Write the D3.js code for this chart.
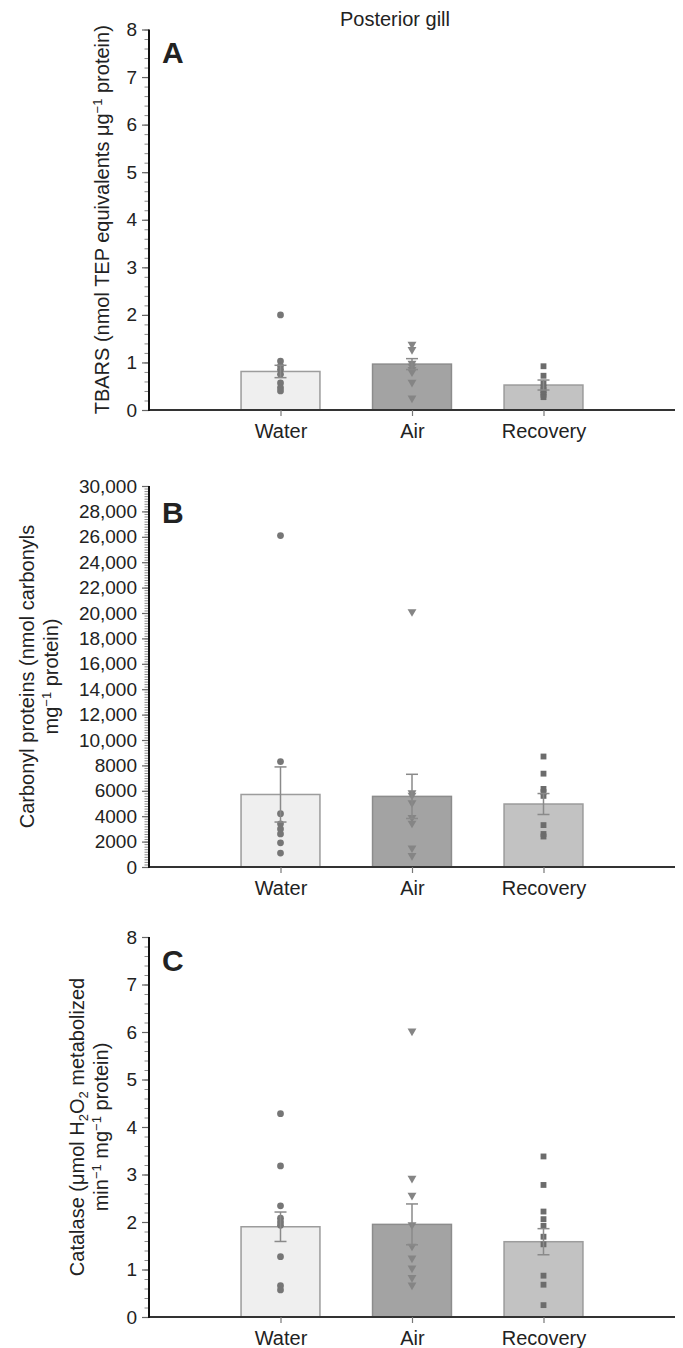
<!DOCTYPE html>
<html><head><meta charset="utf-8">
<script src="https://cdn.jsdelivr.net/npm/d3@7"></script>
<style>
body{margin:0;background:#fff}
svg{display:block}
text{font-family:"Liberation Sans",Arial,Helvetica,sans-serif;fill:#222}
</style>
</head><body>
<svg id="chart" width="683" height="1348"></svg>
<script>
// ---- data ----
const categories = ["Water", "Air", "Recovery"];

const tbarsMean = [0.81, 0.965, 0.525];
const tbarsSE = [0.13, 0.115, 0.105];
const tbarsWater = [2.0, 1.03, 0.93, 0.85, 0.75, 0.57, 0.47, 0.4];
const tbarsAir = [1.38, 1.27, 0.98, 0.92, 0.85, 0.8, 0.58, 0.25];
const tbarsRecovery = [0.92, 0.72, 0.56, 0.47, 0.42, 0.37, 0.32, 0.27];

const carbonylMean = [5710, 5560, 4960];
const carbonylSE = [2170, 1740, 825];
const carbonylWater = [26100, 8300, 4200, 3400, 3000, 2600, 1900, 1100];
const carbonylAir = [20100, 5850, 5650, 5050, 3900, 3450, 1500, 900];
const carbonylRecovery = [8700, 7350, 6150, 5900, 5600, 3300, 2600, 2400];

const catalaseMean = [1.90, 1.95, 1.585];
const catalaseSE = [0.31, 0.43, 0.275];
const catalaseWater = [4.28, 3.18, 2.34, 2.08, 2.0, 1.93, 1.27, 0.66, 0.57];
const catalaseAir = [6.02, 2.92, 2.56, 1.94, 1.49, 1.24, 1.03, 0.83, 0.67];
const catalaseRecovery = [3.38, 2.78, 2.22, 2.06, 1.92, 1.69, 1.53, 0.87, 0.68, 0.25];

const ticksA = [0, 1, 2, 3, 4, 5, 6, 7, 8];
const ticksB = [0, 2000, 4000, 6000, 8000, 10000, 12000, 14000, 16000, 18000, 20000, 22000, 24000, 26000, 28000, 30000];
const ticksC = [0, 1, 2, 3, 4, 5, 6, 7, 8];

const title = "Posterior gill";

// ---- drawing ----
const svg = d3.select("#chart");
const x = d3.scaleLinear().domain([0, 4]).range([149, 675]);

const barFill = ["#efefef", "#a3a3a3", "#c2c2c2"];
const barStroke = ["#9c9c9c", "#8c8c8c", "#9c9c9c"];
const ptColor = ["#767676", "#858585", "#6c6c6c"];
const symbols = [d3.symbolCircle, d3.symbolTriangle, d3.symbolSquare];
const symSize = [36, 34, 34];

const panels = [
  {letter: "A", top: 29.5, base: 410, max: 8, ticks: ticksA, minor: 0.2,
   mean: tbarsMean, se: tbarsSE, pts: [tbarsWater, tbarsAir, tbarsRecovery],
   fmt: d => d, letterY: 63, label: [["TBARS (nmol TEP equivalents μg", ["−1", "sup"], " protein)"]], labelX: [109]},
  {letter: "B", top: 486, base: 867, max: 30000, ticks: ticksB, minor: 200,
   mean: carbonylMean, se: carbonylSE, pts: [carbonylWater, carbonylAir, carbonylRecovery],
   fmt: d => d >= 10000 ? d3.format(",")(d) : String(d), letterY: 523,
   label: [["Carbonyl proteins (nmol carbonyls"], ["mg", ["−1", "sup"], " protein)"]], labelX: [34, 58]},
  {letter: "C", top: 937, base: 1317, max: 8, ticks: ticksC, minor: 0.2,
   mean: catalaseMean, se: catalaseSE, pts: [catalaseWater, catalaseAir, catalaseRecovery],
   fmt: d => d, letterY: 971,
   label: [["Catalase (μmol H", ["2", "sub"], "O", ["2", "sub"], " metabolized"], ["min", ["−1", "sup"], " mg", ["−1", "sup"], " protein)"]], labelX: [84, 108]}
];

svg.append("text").attr("x", 395).attr("y", 26).attr("text-anchor", "middle")
  .style("font-size", "20px").text(title);

panels.forEach(p => {
  const g = svg.append("g");
  const y = d3.scaleLinear().domain([0, p.max]).range([p.base, p.top]);

  // minor ticks
  const minorVals = d3.range(0, p.max + p.minor / 2, p.minor);
  const minorAx = g.append("g").attr("transform", `translate(${x(0)},0)`)
    .call(d3.axisLeft(y).tickValues(minorVals).tickSize(4.5).tickFormat(""));
  minorAx.select(".domain").remove();
  minorAx.selectAll("text").remove();
  minorAx.selectAll("line").attr("stroke", "#8a8a8a").attr("stroke-width", 1);

  // major ticks + labels
  const yAx = g.append("g").attr("transform", `translate(${x(0)},0)`)
    .call(d3.axisLeft(y).tickValues(p.ticks).tickSize(7).tickPadding(5).tickFormat(p.fmt));
  yAx.select(".domain").remove();
  yAx.selectAll("line").attr("stroke", "#666").attr("stroke-width", 1.2);
  yAx.selectAll("text").style("font-size", "19px").attr("fill", "#222")
    .style("font-family", '"Liberation Sans",Arial,sans-serif');

  // bars
  categories.forEach((c, i) => {
    const k = i + 1;
    g.append("rect")
      .attr("x", x(k - 0.3)).attr("width", x(k + 0.3) - x(k - 0.3))
      .attr("y", y(p.mean[i])).attr("height", y(0) - y(p.mean[i]))
      .attr("fill", barFill[i]).attr("stroke", barStroke[i]).attr("stroke-width", 1.5);
  });

  // points
  categories.forEach((c, i) => {
    const k = i + 1;
    const sym = d3.symbol().type(symbols[i]).size(symSize[i]);
    g.selectAll(null).data(p.pts[i]).enter().append("path")
      .attr("d", sym)
      .attr("transform", d => `translate(${x(k)},${y(d)})` + (i === 1 ? " rotate(180)" : ""))
      .attr("fill", ptColor[i]);
  });

  // error bars
  categories.forEach((c, i) => {
    const k = i + 1;
    const hi = y(p.mean[i] + p.se[i]), lo = y(p.mean[i] - p.se[i]);
    const eb = g.append("g").attr("stroke", "#8a8a8a").attr("stroke-width", 1.5);
    eb.append("line").attr("x1", x(k)).attr("x2", x(k)).attr("y1", hi).attr("y2", lo);
    eb.append("line").attr("x1", x(k) - 6).attr("x2", x(k) + 6).attr("y1", hi).attr("y2", hi);
    eb.append("line").attr("x1", x(k) - 6).attr("x2", x(k) + 6).attr("y1", lo).attr("y2", lo);
  });

  // x axis
  const xAx = g.append("g").attr("transform", `translate(0,${p.base})`)
    .call(d3.axisBottom(x).tickValues([1, 2, 3]).tickSize(6).tickPadding(8)
      .tickFormat(d => categories[d - 1]));
  xAx.select(".domain").attr("stroke", "#333").attr("stroke-width", 2)
    .attr("d", `M${x(0)},0H${x(4)}`);
  xAx.selectAll("line").attr("stroke", "#777").attr("stroke-width", 1.2);
  xAx.selectAll("text").style("font-size", "20px").attr("fill", "#222")
    .style("font-family", '"Liberation Sans",Arial,sans-serif');

  // y axis line
  g.append("line").attr("x1", x(0)).attr("x2", x(0)).attr("y1", y(p.max)).attr("y2", y(0) + 1)
    .attr("stroke", "#111").attr("stroke-width", 2);

  // panel letter
  g.append("text").attr("x", 162).attr("y", p.letterY).style("font-size", "30px")
    .style("font-weight", "bold").attr("fill", "#111").text(p.letter);

  // y label
  const cy = (p.top + p.base) / 2;
  p.label.forEach((parts, li) => {
    const t = g.append("text").attr("text-anchor", "middle")
      .attr("transform", `translate(${p.labelX[li]},${cy}) rotate(-90)`)
      .style("font-size", "20px");
    let back = 0;
    parts.forEach(part => {
      if (typeof part === "string") {
        t.append("tspan").attr("dy", back).text(part);
        back = 0;
      } else {
        const [txt, kind] = part;
        const shift = kind === "sup" ? -7 : 4;
        t.append("tspan").attr("dy", shift + back).style("font-size", "13px").text(txt);
        back = -shift;
      }
    });
  });
});
</script>
</body></html>
